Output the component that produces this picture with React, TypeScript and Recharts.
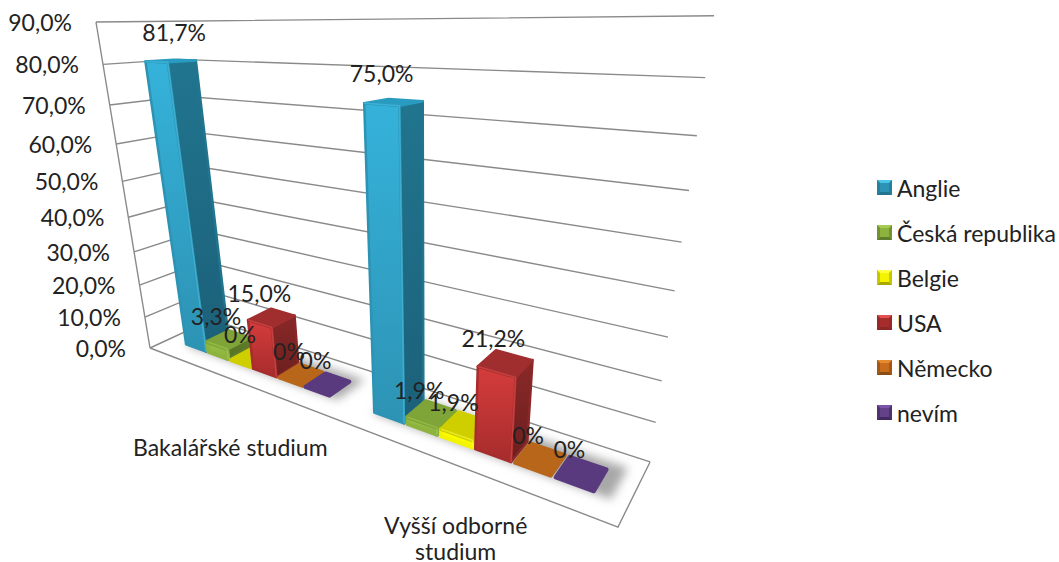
import React from "react";
import { BarChart, Bar, XAxis, YAxis, CartesianGrid, Legend, LabelList, Customized } from "recharts";

// Categories and series values (percent)
const categories = ["Bakalářské studium", "Vyšší odborné studium"];
const anglie = [81.7, 75.0];
const ceskaRepublika = [3.3, 1.9];
const belgie = [0, 1.9];
const usa = [15.0, 21.2];
const nemecko = [0, 0];
const nevim = [0, 0];
const valueTicks = [0, 10, 20, 30, 40, 50, 60, 70, 80, 90];

const rows = categories.map((name, i) => ({
  name,
  anglie: anglie[i],
  ceska: ceskaRepublika[i],
  belgie: belgie[i],
  usa: usa[i],
  nemecko: nemecko[i],
  nevim: nevim[i],
}));

type Tone = { key: string; label: string; face: string; faceLow: string; side: string; sideLow: string; top: string; edge: string };
const tones: Tone[] = [
  { key: "anglie", label: "Anglie", face: "#35B2DA", faceLow: "#2D93B4", side: "#21758F", sideLow: "#1C6079", top: "#2A9BC0", edge: "#4CC4E6" },
  { key: "ceska", label: "Česká republika", face: "#96BE45", faceLow: "#8DB33E", side: "#5F7D2A", sideLow: "#567226", top: "#7FA438", edge: "#A6CC55" },
  { key: "belgie", label: "Belgie", face: "#FFFF00", faceLow: "#F4F400", side: "#A8A800", sideLow: "#999900", top: "#CFCF00", edge: "#FFFF40" },
  { key: "usa", label: "USA", face: "#D53C3C", faceLow: "#A72C2C", side: "#8A2828", sideLow: "#6C1F1F", top: "#A12E2E", edge: "#E25050" },
  { key: "nemecko", label: "Německo", face: "#E07B20", faceLow: "#C96C1B", side: "#8A4E14", sideLow: "#7A4411", top: "#B8661A", edge: "#E68A30" },
  { key: "nevim", label: "nevím", face: "#6E4A98", faceLow: "#63428A", side: "#42295F", sideLow: "#3A2454", top: "#5A3A7E", edge: "#7A55A6" },
];

// Layout of the flat plot rectangle inside the svg; bars are laid out there by the
// library's scales and then carried onto the tilted floor and walls.
const CHART_W = 1059;
const CHART_H = 562;
const LEGEND_W = 189;
const AXIS_SIZE = 1;
const PLOT_L = 20;
const PLOT_T = 50;
const PLOT_B = 50;
const PLOT_W = CHART_W - PLOT_L - LEGEND_W;
const PLOT_H = CHART_H - PLOT_T - PLOT_B;
const MAX_VALUE = 90;
const BAR_NEAR = 0.3;
const BAR_FAR = 0.7;
const BAR_RISE = 0.985;
const FONT = "Lato, 'Open Sans', sans-serif";
const FONT_SIZE = 23;
const TEXT = "#222222";
const GRID = "#8a8a8a";

// Perspective camera: x along the categories, h up the value axis, z into the depth.
const project = (x: number, h: number, z: number) => {
  const w = 1 - 0.36 * x - 0.1633 * h + 0.093 * z;
  return {
    x: (245.5 * x - 69.7 * h + 81 * z + 150) / w,
    y: (-10.7 * x - 329.6 * h + 1.3 * z + 348) / w,
  };
};
const toU = (px: number) => (px - PLOT_L) / PLOT_W;
const toH = (py: number) => (PLOT_T + PLOT_H - py) / PLOT_H;
const poly = (pts: { x: number; y: number }[]) => pts.map((p) => `${p.x.toFixed(2)},${p.y.toFixed(2)}`).join(" ");
const percent = (v: number) => (v === 0 ? "0%" : `${v.toFixed(1).replace(".", ",")}%`);

function BarBlock(props: any) {
  const { x, y, width, tone } = props;
  const t: Tone = tone;
  const h = Math.max(toH(y), 0) * BAR_RISE;
  // low blocks read as soft rounded plates, tall ones keep tighter corners
  const plate = h < 0.05;
  const inset = plate ? 0.004 : 0.002;
  const zInset = plate ? 0.022 : 0.012;
  const corner = { strokeLinejoin: "round" as const, strokeWidth: plate ? 4 : 2.5 };
  const u0 = toU(x) + inset;
  const u1 = toU(x + width) - inset;
  const z0 = BAR_NEAR + zInset;
  const z1 = BAR_FAR - zInset;
  const fl0 = project(u0, 0, z0);
  const fr0 = project(u1, 0, z0);
  const br0 = project(u1, 0, z1);
  const fl1 = project(u0, h, z0);
  const fr1 = project(u1, h, z0);
  const br1 = project(u1, h, z1);
  const bl1 = project(u0, h, z1);
  return (
    <g>
      {h > 0 && <polygon points={poly([fr0, br0, br1, fr1])} fill={`url(#side-${t.key})`} stroke={t.side} {...corner} />}
      {h > 0 && <polygon points={poly([fl0, fr0, fr1, fl1])} fill={`url(#face-${t.key})`} stroke={t.faceLow} {...corner} />}
      <polygon points={poly([fl1, fr1, br1, bl1])} fill={t.top} stroke={t.top} {...corner} />
      {h > 0 && <line x1={fr0.x} y1={fr0.y} x2={fr1.x} y2={fr1.y} stroke={t.edge} strokeWidth={1.5} opacity={0.55} />}
      {h > 0 && <line x1={fl1.x} y1={fl1.y} x2={fr1.x} y2={fr1.y} stroke={t.edge} strokeWidth={1.5} opacity={0.55} />}
    </g>
  );
}

function ValueLabel(props: any) {
  const { x, y, width, value, index, seriesIndex } = props;
  const p = project(toU(x + width / 2), Math.max(toH(y), 0), 0.5);
  // the first tall column carries its label to the right of the common offset
  const dx = seriesIndex === 0 && index === 0 ? 4 : -12;
  return (
    <text x={p.x + dx} y={p.y - 24} textAnchor="middle" dominantBaseline="central" fontFamily={FONT} fontSize={FONT_SIZE} fill={TEXT}>
      {percent(Number(value))}
    </text>
  );
}

function ValueTick(props: any) {
  const { payload } = props;
  const p = project(0, payload.value / MAX_VALUE, 0);
  return (
    <text x={p.x - 24} y={p.y} textAnchor="end" dominantBaseline="central" fontFamily={FONT} fontSize={FONT_SIZE} fill={TEXT}>
      {`${payload.value.toFixed(1).replace(".", ",")}%`}
    </text>
  );
}

function CategoryTick(props: any) {
  const { x, payload } = props;
  const u = toU(x);
  const p = project(u, 0, 0);
  const text: string = payload.value;
  const lines = text.length > 20 ? [text.slice(0, text.lastIndexOf(" ")), text.slice(text.lastIndexOf(" ") + 1)] : [text];
  return (
    <g>
      {lines.map((line, i) => (
        <text key={line} x={p.x - 2} y={p.y + 72 - 17 * u + i * 26} textAnchor="middle" dominantBaseline="central" fontFamily={FONT} fontSize={FONT_SIZE} fill={TEXT}>
          {line}
        </text>
      ))}
    </g>
  );
}

function gridLine(props: any) {
  const h = toH(props.y1);
  const pts = [project(0, h, 0), project(0, h, 1), project(1, h, 1)];
  return <polyline key={`grid-${h.toFixed(3)}`} points={poly(pts)} fill="none" stroke={GRID} strokeWidth={1.4} />;
}

// Floor outline, value axis edge and the soft shadow under each group of columns.
function Room() {
  const a = project(0, 0, 0);
  const r = project(1, 0, 0);
  const b = project(1, 0, 1);
  const top = project(0, 1, 0);
  const groupShadow = (u0: number, u1: number) =>
    poly([project(u0, 0, 0.3), project(u1, 0, 0.3), project(u1, 0, 0.8), project(u0, 0, 0.8)]);
  return (
    <g>
      <defs>
        <filter id="floor-shadow" x="-20%" y="-40%" width="140%" height="180%">
          <feGaussianBlur stdDeviation="5" />
        </filter>
      </defs>
      <polygon points={groupShadow(0.05, 0.47)} fill="#a8a8a8" filter="url(#floor-shadow)" />
      <polygon points={groupShadow(0.55, 0.975)} fill="#a8a8a8" filter="url(#floor-shadow)" />
      <polyline points={poly([a, r, b])} fill="none" stroke={GRID} strokeWidth={1.4} />
      <line x1={a.x} y1={a.y} x2={top.x} y2={top.y} stroke={GRID} strokeWidth={1.4} />
    </g>
  );
}

function LegendBox(props: any) {
  const items = props.payload || [];
  return (
    <div style={{ fontFamily: FONT, fontSize: FONT_SIZE, color: TEXT }}>
      {items.map((item: any) => {
        const t = tones.find((c) => c.label === item.value) as Tone;
        return (
          <div key={item.value} style={{ height: 45, display: "flex", alignItems: "center", whiteSpace: "nowrap" }}>
            <svg width={15} height={15} style={{ marginLeft: 7, marginRight: 5, flex: "none" }}>
              <rect width={15} height={15} fill={t.faceLow} />
              <polygon points="0,0 15,0 12,3 3,3" fill={t.edge} />
              <polygon points="0,15 15,15 12,12 3,12" fill={t.side} />
              <polygon points="0,0 3,3 3,12 0,15" fill={t.side} opacity={0.6} />
              <polygon points="15,0 12,3 12,12 15,15" fill={t.side} opacity={0.6} />
            </svg>
            <span>{item.value}</span>
          </div>
        );
      })}
    </div>
  );
}

export default function App() {
  return (
    <div style={{ position: "absolute", left: 0, top: 0, width: CHART_W, height: CHART_H, background: "#fff" }}>
      <BarChart
        width={CHART_W}
        height={CHART_H}
        data={rows}
        margin={{ top: PLOT_T, bottom: PLOT_B - AXIS_SIZE, left: PLOT_L - AXIS_SIZE, right: 0 }}
        barCategoryGap="10%"
        barGap={0}
      >
        <defs>
          {tones.map((t) => (
            <React.Fragment key={t.key}>
              <linearGradient id={`face-${t.key}`} x1="0" y1="0" x2="0" y2="1">
                <stop offset="0" stopColor={t.face} />
                <stop offset="1" stopColor={t.faceLow} />
              </linearGradient>
              <linearGradient id={`side-${t.key}`} x1="0" y1="0" x2="0" y2="1">
                <stop offset="0" stopColor={t.side} />
                <stop offset="1" stopColor={t.sideLow} />
              </linearGradient>
            </React.Fragment>
          ))}
        </defs>
        <CartesianGrid vertical={false} horizontal={gridLine} />
        <Customized component={Room} />
        <XAxis dataKey="name" height={AXIS_SIZE} axisLine={false} tickLine={false} interval={0} tick={CategoryTick} />
        <YAxis
          type="number"
          domain={[0, MAX_VALUE]}
          ticks={valueTicks}
          interval={0}
          width={AXIS_SIZE}
          axisLine={false}
          tickLine={false}
          tick={ValueTick}
        />
        {tones.map((t, s) => (
          <Bar
            key={t.key}
            dataKey={t.key}
            name={t.label}
            fill={t.face}
            isAnimationActive={false}
            shape={(p: any) => <BarBlock {...p} tone={t} />}
          >
            <LabelList dataKey={t.key} content={(p: any) => <ValueLabel {...p} seriesIndex={s} />} />
          </Bar>
        ))}
        <Legend
          layout="vertical"
          align="right"
          verticalAlign="top"
          width={LEGEND_W}
          itemSorter={null}
          content={LegendBox}
          wrapperStyle={{ left: 870, top: 165, right: "auto", width: LEGEND_W }}
        />
      </BarChart>
    </div>
  );
}
